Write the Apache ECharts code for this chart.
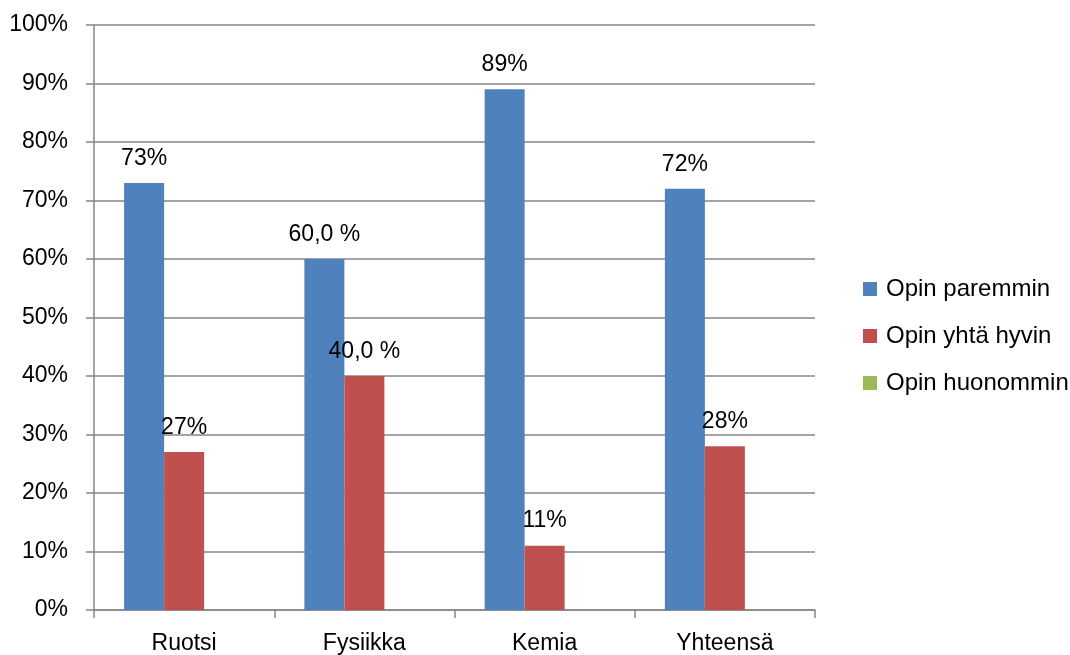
<!DOCTYPE html>
<html>
<head>
<meta charset="utf-8">
<script src="https://cdn.jsdelivr.net/npm/echarts@6/dist/echarts.min.js"></script>
<style>
  html, body { margin: 0; padding: 0; background: #ffffff; }
  #chart { width: 1070px; height: 655px; }
</style>
</head>
<body>
<div id="chart"></div>
<script>
// Subjects on the category axis
const categories = ['Ruotsi', 'Fysiikka', 'Kemia', 'Yhteensä'];

// Share of answers per subject (percent)
const paremmin = [73, 60, 89, 72];
const yhtaHyvin = [27, 40, 11, 28];
const huonommin = [0, 0, 0, 0];

// Decimals shown in each subject's value labels
const labelDecimals = [0, 1, 0, 0];

// Y axis ticks
const yTicks = [0, 10, 20, 30, 40, 50, 60, 70, 80, 90, 100];

const FONT = '"Liberation Sans", Arial, sans-serif';
const AXIS_GREY = '#868686';
const FS = 23;

function formatValue(params) {
  const d = labelDecimals[params.dataIndex];
  if (d > 0) return params.value.toFixed(d).replace('.', ',') + ' %';
  return params.value + '%';
}

function barSeries(name, data, color, showLabel) {
  return {
    name: name,
    type: 'bar',
    data: data,
    barWidth: 40,
    barGap: '0%',
    itemStyle: { color: color },
    label: {
      show: showLabel,
      position: 'top',
      distance: 13,
      color: '#000000',
      fontFamily: FONT,
      fontSize: FS,
      formatter: formatValue
    },
    emphasis: { disabled: true }
  };
}

const chart = echarts.init(document.getElementById('chart'), null, { renderer: 'canvas' });

chart.setOption({
  animation: false,
  backgroundColor: '#ffffff',
  grid: { left: 94, right: 255, top: 25, bottom: 44, containLabel: false },
  legend: {
    orient: 'vertical',
    left: 858,
    top: 272,
    itemWidth: 14,
    itemHeight: 14,
    itemGap: 23,
    icon: 'rect',
    textStyle: { fontFamily: FONT, fontSize: 24, color: '#000000', padding: [0, 0, 0, 4] },
    data: ['Opin paremmin', 'Opin yhtä hyvin', 'Opin huonommin']
  },
  xAxis: {
    type: 'category',
    data: categories,
    boundaryGap: true,
    axisLine: { show: true, lineStyle: { color: AXIS_GREY, width: 1.5 } },
    axisTick: { show: true, alignWithLabel: false, length: 8, lineStyle: { color: AXIS_GREY, width: 1.5 } },
    axisLabel: { color: '#000000', fontFamily: FONT, fontSize: FS, margin: 22 }
  },
  yAxis: {
    type: 'value',
    min: yTicks[0],
    max: yTicks[yTicks.length - 1],
    interval: yTicks[1] - yTicks[0],
    axisLine: { show: true, lineStyle: { color: AXIS_GREY, width: 1.5 } },
    axisTick: { show: true, length: 8, lineStyle: { color: AXIS_GREY, width: 1.5 } },
    axisLabel: { color: '#000000', fontFamily: FONT, fontSize: FS, margin: 26, formatter: '{value}%' },
    splitLine: { show: true, lineStyle: { color: AXIS_GREY, width: 1.5 } }
  },
  series: [
    barSeries('Opin paremmin', paremmin, '#4F81BD', true),
    barSeries('Opin yhtä hyvin', yhtaHyvin, '#C0504D', true),
    barSeries('Opin huonommin', huonommin, '#9BBB59', false)
  ]
});
</script>
</body>
</html>
